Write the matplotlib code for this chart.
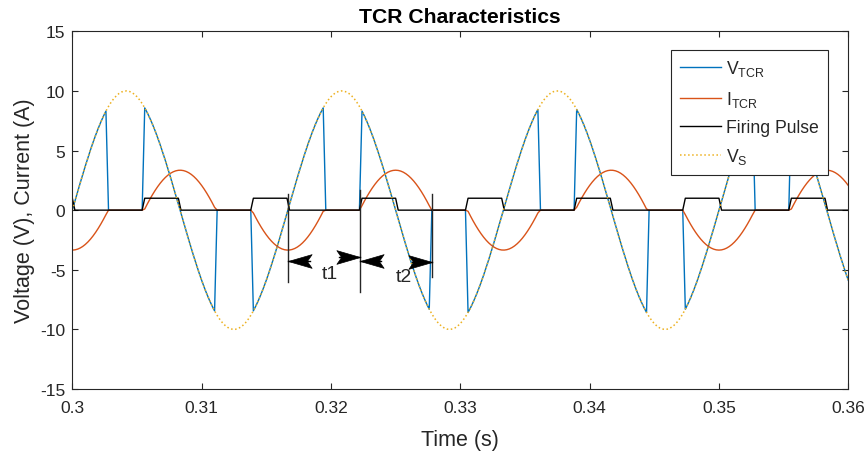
import numpy as np
import matplotlib
matplotlib.use("Agg")
import matplotlib.pyplot as plt
from matplotlib.path import Path

plt.rcParams["font.family"] = ["Liberation Sans", "DejaVu Sans"]
plt.rcParams["mathtext.fontset"] = "custom"
plt.rcParams["mathtext.rm"] = "Liberation Sans"
plt.rcParams["mathtext.it"] = "Liberation Sans:italic"
plt.rcParams["mathtext.bf"] = "Liberation Sans:bold"
plt.rcParams["axes.unicode_minus"] = False

# Operating point of the thyristor-controlled reactor
t_start, t_end = 0.30, 0.36
sample_step = 2e-4          # s, solver output step
source_peak = 10.0          # V
line_freq = 60.0            # Hz
firing_angle_deg = 120.0    # delay from voltage zero crossing
pulse_width_deg = 60.0
pulse_level = 1.0
current_peak = 3.35         # A

# Axes
x_limits = (0.30, 0.36)
y_limits = (-15, 15)
x_ticks = [0.30, 0.31, 0.32, 0.33, 0.34, 0.35, 0.36]
x_tick_labels = ["0.3", "0.31", "0.32", "0.33", "0.34", "0.35", "0.36"]
y_ticks = [-15, -10, -5, 0, 5, 10, 15]

series_labels = [r"V$_{\mathrm{TCR}}$", r"I$_{\mathrm{TCR}}$",
                 "Firing Pulse", r"V$_{\mathrm{S}}$"]
series_colors = ["#0072BD", "#D95319", "black", "#EDB120"]

# Interval markers (vertical bars) and the t1 / t2 dimension arrows
marker_times = [0.31667, 0.32222, 0.32778]
marker_tops = [1.35, 1.7, 1.35]
marker_bottoms = [-6.0, -6.9, -5.6]
interval_labels = ["t1", "t2"]
interval_label_pos = [(0.31989, -5.3), (0.32567, -5.55)]
# (tail x, head x, y) for each arrow
arrow_specs = [
    (0.31835, marker_times[0], -4.3),
    (0.32066, marker_times[1], -3.95),
    (0.32390, marker_times[1], -4.3),
    (0.32629, marker_times[2], -4.35),
]

# ---- waveforms -------------------------------------------------------
t = np.arange(t_start, t_end + sample_step / 2, sample_step)
theta = np.mod(2 * np.pi * line_freq * t, 2 * np.pi)
alpha = np.radians(firing_angle_deg)

v_s = source_peak * np.sin(theta)

gain = current_peak / (1 + np.cos(alpha))
fwd = (theta >= alpha) & (theta <= 2 * np.pi - alpha)
rev = (theta >= np.pi + alpha) | (theta <= np.pi - alpha)
i_tcr = (np.where(fwd, gain * (np.cos(alpha) - np.cos(theta)), 0.0)
         + np.where(rev, -gain * (np.cos(alpha) + np.cos(theta)), 0.0))
v_tcr = np.where(fwd | rev, v_s, 0.0)

half_phase = np.mod(theta, np.pi)
firing = np.where((half_phase >= alpha)
                  & (half_phase < alpha + np.radians(pulse_width_deg)),
                  pulse_level, 0.0)


def arrow_head(direction):
    """Notched arrow head with its tip at the marker origin."""
    s = 1 if direction == "left" else -1
    verts = [(0, 0), (s * 1.0, 0.29), (s * 0.8, 0), (s * 1.0, -0.29), (0, 0)]
    codes = [Path.MOVETO, Path.LINETO, Path.LINETO, Path.LINETO, Path.CLOSEPOLY]
    return Path(verts, codes)


# ---- figure ----------------------------------------------------------
ink = "#262626"
fig = plt.figure(figsize=(8.67, 4.56), dpi=100)
ax = fig.add_axes([0.0834, 0.1447, 0.8950, 0.7845])

ax.plot(t, v_tcr, color=series_colors[0], lw=1.0, label=series_labels[0])
ax.plot(t, i_tcr, color=series_colors[1], lw=1.0, label=series_labels[1])
ax.plot(t, firing, color=series_colors[2], lw=1.0, label=series_labels[2])
ax.plot(t, v_s, color=series_colors[3], lw=1.1, ls=":", label=series_labels[3])

# interval markers
for xm, top, bot in zip(marker_times, marker_tops, marker_bottoms):
    ax.plot([xm, xm], [bot, top], color=ink, lw=1.0, zorder=5)
for tail, head, yv in arrow_specs:
    ax.plot([tail, head], [yv, yv], color="black", lw=1.0, zorder=6)
    side = "left" if head < tail else "right"
    ax.plot([head], [yv], linestyle="none", marker=arrow_head(side),
            markersize=34, color="black", markeredgewidth=0.5, zorder=6)
for lab, (xl, yl) in zip(interval_labels, interval_label_pos):
    ax.text(xl, yl, lab, fontsize=14, color=ink, ha="center", va="center",
            zorder=7)

ax.set_xlim(*x_limits)
ax.set_ylim(*y_limits)
ax.set_xticks(x_ticks)
ax.set_xticklabels(x_tick_labels)
ax.set_yticks(y_ticks)
ax.tick_params(direction="in", top=True, right=True, length=4, width=0.8,
               colors=ink, labelsize=12.5)
ax.tick_params(axis="x", pad=8)
ax.tick_params(axis="y", pad=5)
for sp in ax.spines.values():
    sp.set_color(ink)
    sp.set_linewidth(0.8)

ax.set_title("TCR Characteristics", fontsize=15.2, fontweight="bold",
             color="black", pad=7)
ax.set_xlabel("Time (s)", fontsize=15.5, color=ink, labelpad=10)
ax.set_ylabel("Voltage (V), Current (A)", fontsize=15.5, color=ink,
              labelpad=4)

leg = ax.legend(loc="upper right", bbox_to_anchor=(0.9735, 0.9486),
                fontsize=12.7, handlelength=2.3, handletextpad=0.3,
                labelspacing=0.58, borderpad=0.5, fancybox=False,
                framealpha=1, edgecolor=ink, borderaxespad=0)
leg.get_frame().set_linewidth(0.8)
for txt in leg.get_texts():
    txt.set_color(ink)

fig.savefig("out.png", dpi=100)
